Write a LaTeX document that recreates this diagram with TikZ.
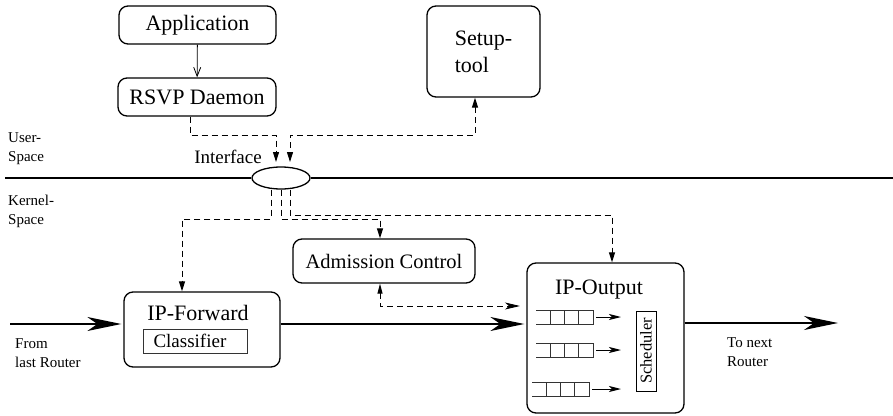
\documentclass[tikz,border=0pt]{standalone}
\usepackage{fontspec}
\setmainfont{Liberation Serif}
\newfontfamily\tms{Liberation Serif}
\usetikzlibrary{arrows.meta,shapes.geometric,calc}

\newcommand\fszA{\tms\fontsize{22}{27}\selectfont}
\newcommand\fszB{\tms\fontsize{20.5}{24}\selectfont}
\newcommand\fszC{\tms\fontsize{19}{22}\selectfont}
\newcommand\fszD{\tms\fontsize{16.5}{20}\selectfont}
\newcommand\fszE{\tms\fontsize{15}{19}\selectfont}

\begin{document}
\begin{tikzpicture}[x=1pt,y=-1pt,
  box/.style={draw, rounded corners=9pt, line width=1.3pt, inner sep=0pt, align=center, font=\fszA},
  bigflow/.style={line width=1.5pt, -{Stealth[length=34pt,width=14pt,inset=10pt]}},
  dsh/.style={dash pattern=on 6pt off 4pt, line width=1pt},
  dtip/.style={-{Triangle[length=10pt,width=6pt]}},
  qarrow/.style={line width=1pt, -{Stealth[length=12pt,width=6pt,inset=3pt]}},
  queue/.style={line width=0.9pt, draw=black!80},
  lbl/.style={anchor=west, align=left, font=\fszE, inner sep=0pt}
]
\useasboundingbox (0,0) rectangle (893,415);

% user-space boxes
\node[box, minimum width=157pt, minimum height=38pt] (app) at (197.5,25) {Application};
\node[box, minimum width=158pt, minimum height=38pt] (rsvp) at (197,97) {RSVP Daemon};
\node[box, minimum width=113pt, minimum height=91pt, align=left] (setup) at (483.5,51.5) {Setup-\\tool};

% user/kernel boundary with the interface
\node[draw, ellipse, minimum width=58pt, minimum height=22pt, line width=1.3pt, inner sep=0pt] (iface) at (281,178) {};
\node[font=\fszC, inner sep=0pt] (ifl) at (228,157) {Interface};
\coordinate (bl) at (5,178);
\coordinate (br) at (893,178);
\draw[line width=1.3pt] (bl) -- (iface.west);
\draw[line width=1.3pt] (iface.east) -- (br);

\node[lbl] (us) at (8,149) {User-\\Space};
\node[lbl] (ks) at (8,211) {Kernel-\\Space};

% kernel-space boxes
\node[box, font=\fszB, minimum width=182pt, minimum height=44pt] (adm) at (384,261) {Admission Control};
\node[box, minimum width=156pt, minimum height=75pt] (fwd) at (202,329.5) {};
\node[font=\fszA, inner sep=0pt] (fwdt) at (198,313) {IP-Forward};
\node[draw=black!80, line width=1pt, anchor=west, minimum height=24pt, text width=84pt,
      inner xsep=10pt, inner ysep=0pt, align=left, font=\fszC] (cls) at (143,341) {Classifier};

\node[box, minimum width=157pt, minimum height=150pt] (out) at (605.5,338) {};
\node[font=\fszA, inner sep=0pt] (outt) at (599,290) {IP-Output};
\node[draw, rotate=90, line width=1pt, minimum width=80pt, minimum height=20pt, inner sep=0pt,
      font=\fszD] (sched) at (646,351) {Scheduler};

% queues inside IP-Output
\foreach \x/\y/\n in {536/310/1, 536/343/2, 532/382/3}{
  \draw[queue] (\x,\y) -- ++(57,0) -- ++(0,14) -- ++(-57,0);
  \foreach \c in {14,28,42}{
    \draw[queue] ($(\x,\y)+(\c,0)$) -- ++(0,14);
  }
  \coordinate (q\n s) at ($(\x,\y)+(60,7)$);
  \coordinate (q\n e) at (621,\y+7);
  \draw[qarrow] (q\n s) -- (q\n e);
}

% application to daemon
\draw[line width=0.8pt, -{Straight Barb[length=9pt,width=7pt]}] (app) -- (rsvp);

% control paths into the interface
\coordinate (r1) at (190,135);
\coordinate (i1) at (276,162);
\draw[dsh, dtip] ([xshift=-7pt]rsvp.south) -- (r1) -| (i1);
\coordinate (s1) at (475,135);
\coordinate (i2) at (290,162);
\draw[dsh, {Triangle[length=10pt,width=6pt]}-{Triangle[length=10pt,width=6pt]}]
  ([xshift=-8.5pt]setup.south) -- (s1) -| (i2);

% control paths out of the interface
\coordinate (k1) at (271,219);
\coordinate (k2) at (281,219);
\coordinate (k3) at (290,215);
\draw[dsh, dtip] ([xshift=-10pt]iface.south) -- (k1) -| ([xshift=-20pt]fwd.north);
\draw[dsh, dtip] (iface.south) -- (k2) -| ([xshift=-4pt]adm.north);
\draw[dsh, dtip] ([xshift=9pt]iface.south) -- (k3) -| ([xshift=6.5pt]out.north);

% admission control <-> IP-Output
\coordinate (ain) at (520,306);
\draw[dsh, {Triangle[length=10pt,width=5pt]}-{Stealth[length=15pt,width=7pt,inset=4pt]}]
  ([xshift=-4pt]adm.south) |- (ain);

% packet flow
\coordinate (src) at (10,324);
\coordinate (dst) at (838,323);
\draw[bigflow, shorten >=2pt] (src) -- (src -| fwd.west);
\draw[bigflow, shorten >=2pt] (fwd.east |- src) -- (out.west |- src);
\draw[bigflow] (out.east |- dst) -- (dst);

\node[lbl] (from) at (15,353) {From\\last Router};
\node[lbl] (to) at (727,352.5) {To next\\Router};
\end{tikzpicture}
\end{document}
